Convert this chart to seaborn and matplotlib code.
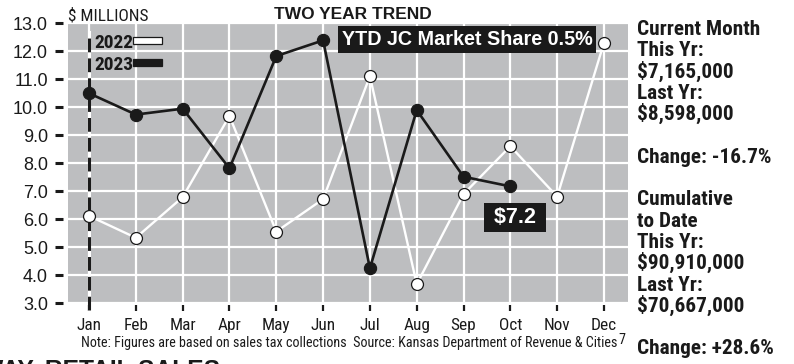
import numpy as np
import pandas as pd
import matplotlib
matplotlib.use("Agg")
import matplotlib.pyplot as plt
import matplotlib.transforms as mtransforms
from matplotlib import font_manager as fm
from matplotlib.font_manager import FontProperties
from matplotlib.textpath import TextPath
from matplotlib.patches import Rectangle
import seaborn as sns

# ---- data ($ millions) ----
months = ["Jan", "Feb", "Mar", "Apr", "May", "Jun",
          "Jul", "Aug", "Sep", "Oct", "Nov", "Dec"]
sales_2022 = [6.11, 5.33, 6.78, 9.68, 5.55, 6.71, 11.10, 3.67, 6.89, 8.598, 6.80, 12.30]
sales_2023 = [10.49, 9.73, 9.94, 7.81, 11.82, 12.38, 4.24, 9.89, 7.51, 7.165]
y_ticks = [3.0, 4.0, 5.0, 6.0, 7.0, 8.0, 9.0, 10.0, 11.0, 12.0, 13.0]
series_labels = ["2022", "2023"]
market_share = "YTD JC Market Share 0.5%"
side_lines = [
    (0, "Current Month"), (1, "This Yr:"), (2, "$7,165,000"),
    (3, "Last Yr:"), (4, "$8,598,000"),
    (6, "Change: -16.7%"),
    (8, "Cumulative"), (9, "to Date"), (10, "This Yr:"),
    (11, "$90,910,000"), (12, "Last Yr:"), (13, "$70,667,000"),
    (15, "Change: +28.6%"),
]
note_text = ("Note: Figures are based on sales tax collections  "
             "Source: Kansas Department of Revenue & Cities")

# ---- fonts: pick a narrow face if one is available ----
entries = fm.fontManager.ttflist
installed = {f.name for f in entries}
SANS = "Liberation Sans" if "Liberation Sans" in installed else "DejaVu Sans"
NARROW, STRETCH = None, "normal"
for pref in ["Liberation Sans Narrow", "Arial Narrow", "Roboto Condensed",
             "Open Sans Condensed", "Noto Sans Condensed", "DejaVu Sans Condensed"]:
    if pref in installed:
        NARROW = pref
        break
if NARROW is None:
    for f in entries:
        if isinstance(f.stretch, str) and "condensed" in f.stretch and \
                f.name in ("DejaVu Sans", "Noto Sans", "Open Sans", "Roboto", "Lato", "Inter"):
            NARROW, STRETCH = f.name, "condensed"
            break
if NARROW is None:
    NARROW = "Roboto" if "Roboto" in installed else SANS

plt.rcParams["font.family"] = [SANS, "DejaVu Sans"]


def fit(s, target_px, size, weight="normal", cap=None):
    """Size at which s spans target_px (optionally capped)."""
    fp = FontProperties(family=NARROW, weight=weight, stretch=STRETCH, size=size)
    w = TextPath((0, 0), s, size=size, prop=fp).get_extents().width * 100 / 72
    out = size * target_px / w if w > 0 else size
    return min(out, cap) if cap else out


def narrow(size, weight="normal"):
    return dict(fontfamily=NARROW, fontstretch=STRETCH, fontsize=size,
                fontweight=weight)


GRAY = "#bdbec0"
INK = "#1a1a1a"

W, H = 794, 364
fig = plt.figure(figsize=(W / 100, H / 100), dpi=100)
fig.patch.set_facecolor("white")

# plot box in pixels: left 68, right 628, top 23, bottom 303
ax = fig.add_axes([68 / W, (H - 303) / H, 560 / W, 280 / H])
ax.set_facecolor(GRAY)
for s in ax.spines.values():
    s.set_visible(False)

x_idx = np.arange(len(months))
df22 = pd.DataFrame({"m": x_idx, "v": sales_2022})
df23 = pd.DataFrame({"m": x_idx[:len(sales_2023)], "v": sales_2023})

sns.lineplot(data=df22, x="m", y="v", ax=ax, color="white", linewidth=1.7,
             marker="o", markersize=8.6, markerfacecolor="white",
             markeredgecolor=INK, markeredgewidth=0.9, errorbar=None,
             sort=False, legend=False, zorder=4)
sns.lineplot(data=df23, x="m", y="v", ax=ax, color=INK, linewidth=1.9,
             marker="o", markersize=8.8, markerfacecolor=INK,
             markeredgecolor=INK, markeredgewidth=0.8, errorbar=None,
             sort=False, legend=False, zorder=5)

ax.set_xlim(-0.449, 11.513)
ax.set_ylim(3, 13)
ax.set_xticks(x_idx)
month_size = fit("Nov", 25, 12, cap=13)
ax.set_xticklabels(months, color=INK, **narrow(month_size))
ax.set_yticks(y_ticks)
ax.set_yticklabels([f"{v:.1f}" for v in y_ticks], fontsize=13, color=INK)
ax.tick_params(axis="x", length=0, pad=10.5)
ax.tick_params(axis="y", length=0, pad=14.4)
ax.set_xlabel("")
ax.set_ylabel("")
ax.grid(True, color="white", linewidth=1.6)
ax.set_axisbelow(True)

# dash-style tick marks set off from the plot box
ytr = mtransforms.blended_transform_factory(ax.transAxes, ax.transData)
for v in y_ticks:
    ax.plot([-0.0232, -0.0089], [v, v], transform=ytr, color=INK,
            linewidth=2.2, solid_capstyle="butt", clip_on=False)
xtr = mtransforms.blended_transform_factory(ax.transData, ax.transAxes)
for i in x_idx:
    ax.plot([i, i], [-0.007, -0.029], transform=xtr, color=INK,
            linewidth=1.6, solid_capstyle="butt", clip_on=False)

# dashed year-start marker at January
ax.plot([0, 0], [-0.025, 0.969], transform=xtr, color="white",
        linewidth=2.2, clip_on=False, zorder=2)
ax.plot([0, 0], [-0.025, 0.969], transform=xtr, color=INK,
        linewidth=2.2, linestyle=(0, (4.5, 2)), clip_on=False, zorder=3)

# year key
key_size = fit("2022", 38, 14, "bold", cap=15)
key_y = [0.911, 0.832]
key_face = ["white", INK]
for lab, yy, fc in zip(series_labels, key_y, key_face):
    ax.text(0.0464, yy, lab, transform=ax.transAxes, color=INK, va="baseline",
            ha="left", zorder=6, **narrow(key_size, "bold"))
    ax.add_patch(Rectangle((0.1161, yy + 0.0136), 0.0518, 0.025,
                           transform=ax.transAxes, facecolor=fc,
                           edgecolor=INK, linewidth=0.9, zorder=6))

# market share banner
ax.text(0.7125, 0.941, market_share, transform=ax.transAxes, ha="center",
        va="center", fontsize=14.2, fontweight="bold", color="white",
        bbox=dict(boxstyle="square,pad=0.2", facecolor=INK, edgecolor="none"),
        zorder=6)

# latest value callout
last_val = sales_2023[-1]
ax.annotate(f" ${last_val:.1f} ", xy=(len(sales_2023) - 1, last_val),
            xytext=(4.5, -31), textcoords="offset pixels", ha="center",
            va="center", fontsize=15.5, fontweight="bold", color="white",
            bbox=dict(boxstyle="square,pad=0.2", facecolor=INK, edgecolor="none"),
            zorder=6)

# headers
fig.text(68 / W, (H - 20) / H, "$ MILLIONS", color=INK, ha="left",
         va="baseline", **narrow(fit("$ MILLIONS", 79, 12.5, cap=13)))
fig.text(353 / W, (H - 19) / H, "TWO YEAR TREND", fontsize=12.5,
         fontweight="bold", color=INK, ha="center", va="baseline")

# side summary
side_size = fit("Current Month", 121, 15, "bold", cap=16)
for k, line in side_lines:
    base = 35 + 21.3 * k
    fig.text(637 / W, (H - base) / H, line, color=INK, ha="left",
             va="baseline", **narrow(side_size, "bold"))

# footnote
note_size = fit(note_text, 537, 8.8, cap=11)
note = fig.text(80.7 / W, (H - 346.7) / H, note_text, color=INK, ha="left",
                va="baseline", **narrow(note_size))
ax.annotate("7", xy=(1.0, 1.0), xycoords=note, xytext=(1.5, 2.5),
            textcoords="offset pixels", ha="left", va="top",
            color=INK, annotation_clip=False, **narrow(note_size))

# section heading running off the bottom edge
fig.text(-20 / W, (H - 378) / H, "WAY, RETAIL SALES", fontsize=17.7,
         fontweight="bold", color=INK, ha="left", va="baseline")

fig.savefig("out.png", dpi=100)
